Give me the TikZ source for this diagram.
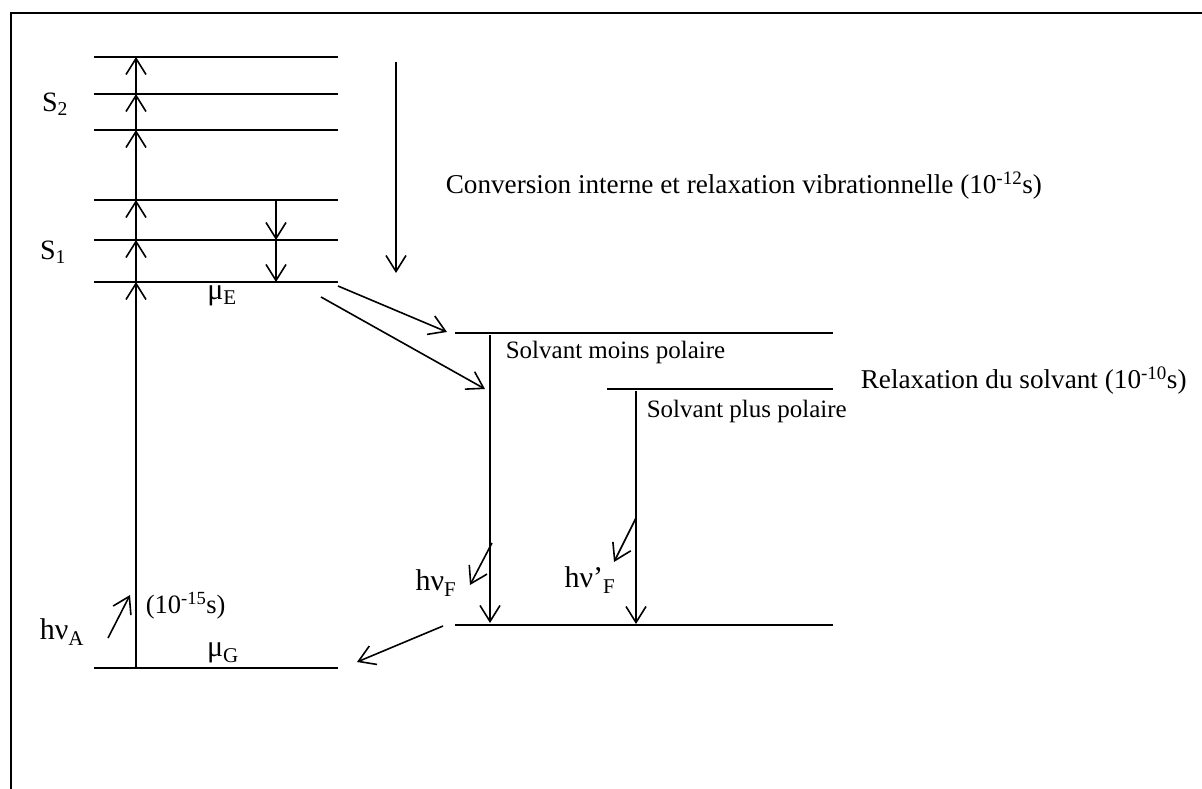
\documentclass[tikz,border=0pt]{standalone}
\usepackage{fontspec}
\setmainfont{Liberation Serif}
\usetikzlibrary{arrows.meta}

\begin{document}
\begin{tikzpicture}[x=1pt, y=-1pt, line width=1.6pt,
    >={Straight Barb[length=16pt,width=20pt,line width=1.6pt]},
    font=\fontsize{25}{29}\selectfont,
    txt/.style={inner sep=0pt, anchor=west},
    big/.style={font=\fontsize{30}{34}\selectfont, inner sep=0pt},
    wide/.style={txt, font=\fontsize{27.2}{32}\selectfont}]
    \useasboundingbox (0,0) rectangle (1202,789);
    \draw[line width=2.4pt] (11,789) -- (11,13) -- (1202,13);
    % niveaux S0, S1, S2
    \foreach \y in {57,94,130,200,240,282,668}
      \draw (94,\y) -- (338,\y);
    % niveaux du solvant
    \draw (455,333) -- (833,333);
    \draw (607,389) -- (833,389);
    \draw (455,625) -- (833,625);
    % points des fleches
    \coordinate (g) at (136,668);
    \coordinate (e0) at (136,282);
    \coordinate (e1) at (136,240);
    \coordinate (e2) at (136,200);
    \coordinate (f0) at (136,130);
    \coordinate (f1) at (136,94);
    \coordinate (f2) at (136,57);
    \coordinate (v2) at (276,200);
    \coordinate (v1) at (276,240);
    \coordinate (v0) at (276,282);
    \coordinate (ic0) at (396,62);
    \coordinate (ic1) at (396,273);
    \coordinate (d0) at (338,286);
    \coordinate (d1) at (447,332);
    \coordinate (d2) at (321,297);
    \coordinate (d3) at (485,389);
    \coordinate (m0) at (490,335);
    \coordinate (m1) at (490,623);
    \coordinate (p0) at (636,391);
    \coordinate (p1) at (636,624);
    \coordinate (r0) at (443,626);
    \coordinate (r1) at (357,662);
    \coordinate (a0) at (108,638);
    \coordinate (a1) at (130,595);
    \coordinate (b0) at (492,543);
    \coordinate (b1) at (470,585);
    \coordinate (c0) at (636,518);
    \coordinate (c1) at (614,562);
    % etiquettes
    \node[font=\fontsize{28}{32}\selectfont] (S2) at (55,104) {S\textsubscript{2}};
    \node[font=\fontsize{28}{32}\selectfont] (S1) at (53,252) {S\textsubscript{1}};
    \node[big] (muE) at (222,296) {μ\textsubscript{E}};
    \node[big] (muG) at (223,653) {μ\textsubscript{G}};
    \node[big] (hvA) at (62,632) {hν\textsubscript{A}};
    \node[txt, font=\fontsize{26.5}{30}\selectfont] (tA) at (145,606) {(10\textsuperscript{-15}s)};
    \node[big] (hvF) at (436,583) {hν\textsubscript{F}};
    \node[big] (hvF2) at (590,580) {hν’\textsubscript{F}};
    \node[wide] (conv) at (445,186) {Conversion interne et relaxation vibrationnelle (10\textsuperscript{-12}s)};
    \node[txt] (moins) at (505,352) {Solvant moins polaire};
    \node[wide] (relax) at (860,381) {Relaxation du solvant (10\textsuperscript{-10}s)};
    \node[txt] (plus) at (646,411) {Solvant plus polaire};
    % fleches
    \draw[->] (g) -- (e0);
    \draw[->] (e0) -- (e1);
    \draw[->] (e1) -- (e2);
    \draw[->] (e2) -- (f0);
    \draw[->] (f0) -- (f1);
    \draw[->] (f1) -- (f2);
    \draw[->] (v2) -- (v1);
    \draw[->] (v1) -- (v0);
    \draw[->] (ic0) -- (ic1);
    \draw[->] (d0) -- (d1);
    \draw[->] (d2) -- (d3);
    \draw[->] (m0) -- (m1);
    \draw[->] (p0) -- (p1);
    \draw[->] (r0) -- (r1);
    \draw[->] (a0) -- (a1);
    \draw[->] (b0) -- (b1);
    \draw[->] (c0) -- (c1);
\end{tikzpicture}
\end{document}
